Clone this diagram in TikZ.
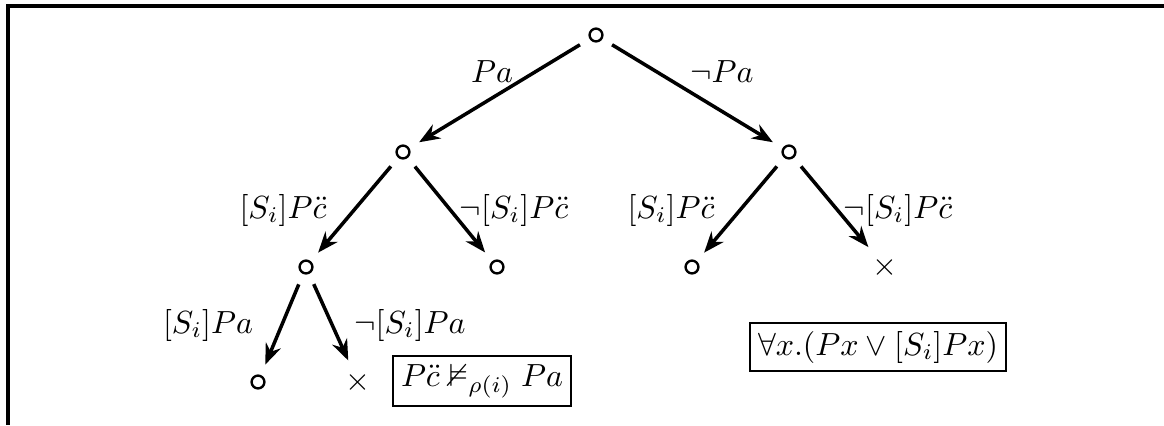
\documentclass[tikz,border=0pt]{standalone}
\usepackage{amssymb}
\usetikzlibrary{arrows.meta}
\begin{document}
\begin{tikzpicture}[x=0.3125pt,y=-0.3125pt,
  pt/.style={circle,draw,line width=0.75pt,minimum size=4pt,inner sep=0pt},
  cross/.style={inner sep=0pt},
  edge/.style={line width=1.1pt,-{Stealth[length=6.5pt,width=5pt]},shorten <=3.5pt,shorten >=3.5pt},
  lab/.style={inner sep=0pt},
  result/.style={draw,line width=0.6pt,inner sep=2.5pt}]
\useasboundingbox (0,0) rectangle (1164,425);
\draw[line width=1pt] (1164,6) coordinate (tr) -- (8,6) coordinate (tl) -- (8,425) coordinate (bl);
% nodes
\node[pt] (r) at (596,35) {};
\node[pt] (a) at (403,152) {};
\node[pt] (b) at (789,152) {};
\node[pt] (aa) at (306,267) {};
\node[pt] (ab) at (497,267) {};
\node[pt] (ba) at (692,267) {};
\node[cross] (bb) at (885,267) {$\times$};
\node[pt] (aaa) at (258,382) {};
\node[cross] (aab) at (358,382) {$\times$};
% edges
\draw[edge] (r) -- (a);
\draw[edge] (r) -- (b);
\draw[edge] (a) -- (aa);
\draw[edge] (a) -- (ab);
\draw[edge] (b) -- (ba);
\draw[edge] (b) -- (bb);
\draw[edge] (aa) -- (aaa);
\draw[edge] (aa) -- (aab);
% labels
\node[lab] (l1) at (492,72) {$Pa$};
\node[lab] (l2) at (722,72) {$\neg Pa$};
\node[lab] (l3) at (283,210) {$[S_i]P\ddot{c}$};
\node[lab] (l4) at (514,210) {$\neg[S_i]P\ddot{c}$};
\node[lab] (l5) at (671,210) {$[S_i]P\ddot{c}$};
\node[lab] (l6) at (898,210) {$\neg[S_i]P\ddot{c}$};
\node[lab] (l7) at (208,325) {$[S_i]Pa$};
\node[lab] (l8) at (410,325) {$\neg[S_i]Pa$};
% result boxes
\node[result] (res1) at (482,381) {$P\ddot{c}\nvDash_{\rho(i)} Pa$};
\node[result] (res2) at (878,347) {$\forall x.(Px\vee[S_i]Px)$};
\end{tikzpicture}
\end{document}
